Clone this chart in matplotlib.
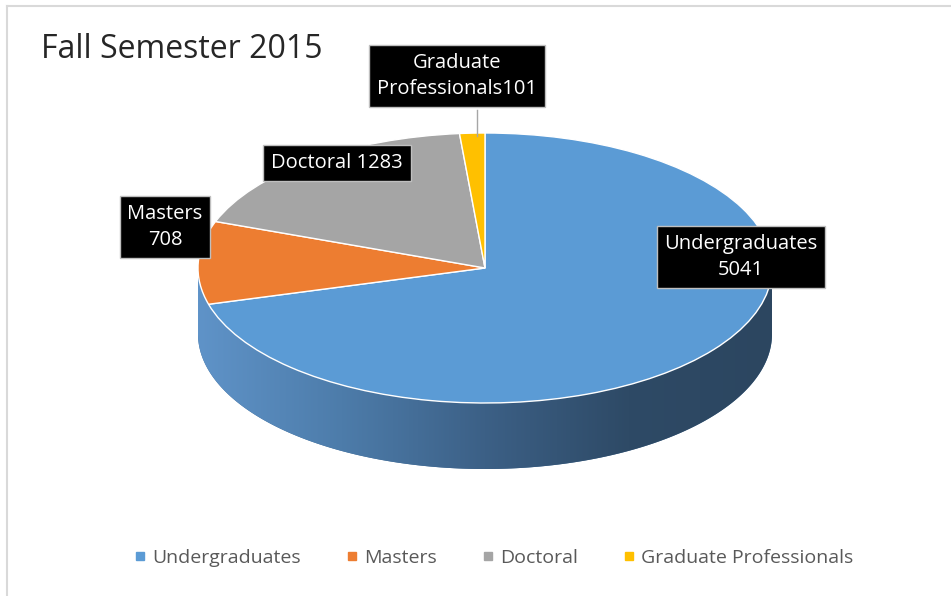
import numpy as np
import matplotlib
matplotlib.use('Agg')
import matplotlib.pyplot as plt
from matplotlib.patches import Polygon
from matplotlib.lines import Line2D
from matplotlib.colors import LinearSegmentedColormap

# ---- data ----
categories = ['Undergraduates', 'Masters', 'Doctoral', 'Graduate Professionals']
values = [5041, 708, 1283, 101]
label_texts = ['Undergraduates\n5041', 'Masters\n708', 'Doctoral 1283', 'Graduate\nProfessionals101']
title = 'Fall Semester 2015'

# ---- style ----
colors = ['#5B9BD5', '#ED7D31', '#A5A5A5', '#FFC000']
FONT = ['Open Sans', 'DejaVu Sans']
plt.rcParams['font.family'] = FONT

W, H = 951, 596
fig = plt.figure(figsize=(W / 100, H / 100), dpi=100)
ax = fig.add_axes([0, 0, 1, 1])

cx_px, cy_px = 485, 268
rx_px, ry_px = 287, 135
depth = 66 / ry_px

wedges, _ = ax.pie(values, colors=colors, startangle=90, counterclock=False,
                   radius=1, center=(0, 0),
                   wedgeprops=dict(edgecolor='white', linewidth=1.0))
for w in wedges:
    w.set_zorder(5)

ax.set_aspect('auto')
ax.axis('off')

# ---- side of the 3D pie (front half) ----
grad = LinearSegmentedColormap.from_list(
    'side', ['#5F93C8', '#4D7CAA', '#3C6086', '#2E4A66', '#2C4660'])
gradient = np.linspace(0, 1, 256).reshape(1, -1)
th = np.radians(np.linspace(-180, 0, 300))
top = np.column_stack([np.cos(th), np.sin(th)])
bot = np.column_stack([np.cos(th[::-1]), np.sin(th[::-1]) - depth])
side = Polygon(np.vstack([top, bot]), closed=True, facecolor='#3E6A94',
               edgecolor='none', zorder=2)
ax.add_patch(side)
im = ax.imshow(gradient, cmap=grad, aspect='auto',
               extent=(-1, 1, -1 - depth, 0), zorder=3)
im.set_clip_path(side)
ax.set_xlim(-cx_px / rx_px, (W - cx_px) / rx_px)
ax.set_ylim(-(H - cy_px) / ry_px, cy_px / ry_px)

# ---- title ----
fig.text(41 / W, 1 - 49 / H, title, fontsize=23, color='#262626',
         ha='left', va='center')

# ---- data labels ----
label_pos = [(741, 257), (165, 227), (337, 163), (457, 76)]
for txt, (px, py) in zip(label_texts, label_pos):
    fig.text(px / W, 1 - py / H, txt, fontsize=14.5, color='white',
             ha='center', va='center', multialignment='center',
             linespacing=1.4, zorder=10,
             bbox=dict(boxstyle='square,pad=0.38', fc='black',
                       ec='#BFBFBF', lw=1))

# leader line for Graduate Professionals
fig.add_artist(Line2D([477 / W, 477 / W], [1 - 110 / H, 1 - 136 / H],
                      color='#A6A6A6', lw=1, transform=fig.transFigure, zorder=9))

# ---- chart frame ----
fig.add_artist(Line2D([6.5 / W, 6.5 / W], [0, 1 - 5.5 / H], color='#D9D9D9',
                      lw=1.5, transform=fig.transFigure))
fig.add_artist(Line2D([6.5 / W, 1], [1 - 5.5 / H, 1 - 5.5 / H], color='#D9D9D9',
                      lw=1.5, transform=fig.transFigure))

# ---- legend ----
handles = [Line2D([0], [0], marker='s', linestyle='none', markersize=6,
                  markerfacecolor=c, markeredgecolor=c) for c in colors]
leg = fig.legend(handles, categories, loc='center', ncol=4,
                 bbox_to_anchor=(492 / W, 1 - 558 / H), frameon=False,
                 fontsize=14, handletextpad=0.1, columnspacing=2.15,
                 handlelength=1.0)
for t in leg.get_texts():
    t.set_color('#595959')

fig.savefig('out.png', dpi=100, facecolor='white')
